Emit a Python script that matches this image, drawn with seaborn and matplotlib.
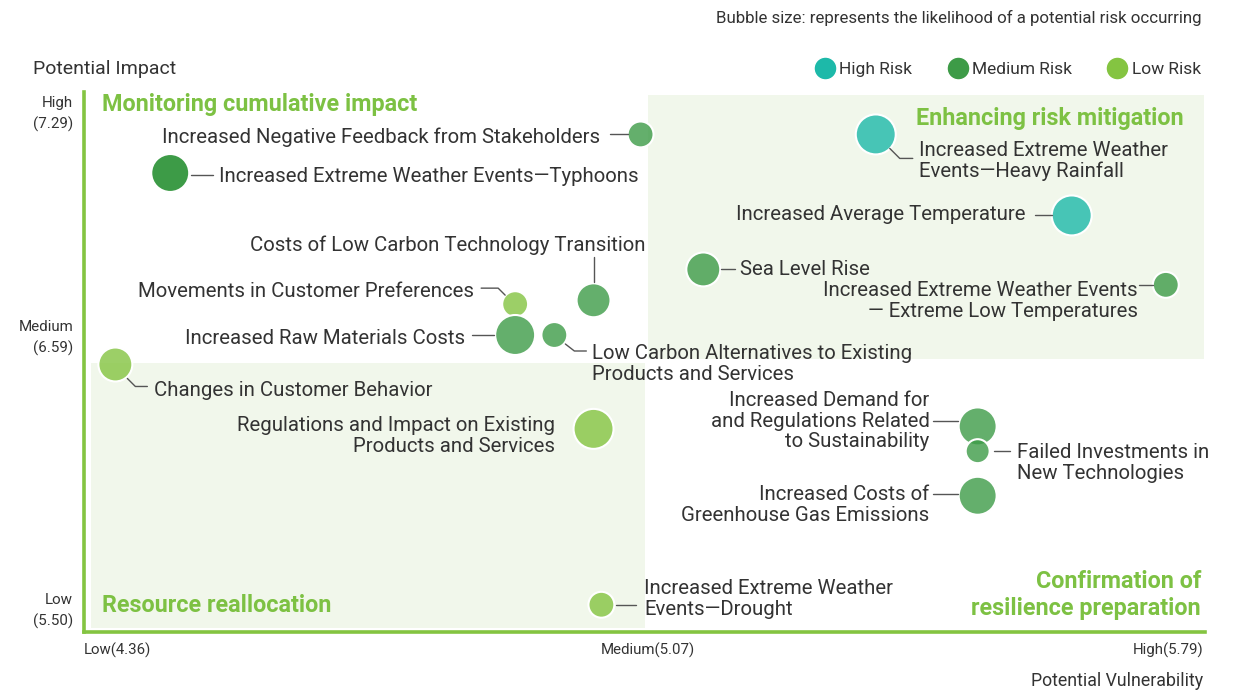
import numpy as np
import pandas as pd
import seaborn as sns
import matplotlib.pyplot as plt
from matplotlib.lines import Line2D
from matplotlib.patches import Rectangle
from matplotlib.transforms import IdentityTransform

# ---- data -------------------------------------------------------------
risks = [
    "Increased Negative Feedback from Stakeholders",
    "Increased Extreme Weather Events\u2014Typhoons",
    "Increased Extreme Weather\nEvents\u2014Heavy Rainfall",
    "Increased Average Temperature",
    "Sea Level Rise",
    "Increased Extreme Weather Events\n\u2014 Extreme Low Temperatures",
    "Costs of Low Carbon Technology Transition",
    "Movements in Customer Preferences",
    "Increased Raw Materials Costs",
    "Low Carbon Alternatives to Existing\nProducts and Services",
    "Changes in Customer Behavior",
    "Regulations and Impact on Existing\nProducts and Services",
    "Increased Demand for\nand Regulations Related\nto Sustainability",
    "Failed Investments in\nNew Technologies",
    "Increased Costs of\nGreenhouse Gas Emissions",
    "Increased Extreme Weather\nEvents\u2014Drought",
]
vulnerability = [5.07, 4.47, 5.37, 5.62, 5.15, 5.74, 5.01, 4.91,
                 4.91, 4.96, 4.40, 5.01, 5.50, 5.50, 5.50, 5.02]
impact = [7.18, 7.08, 7.18, 6.97, 6.83, 6.79, 6.75, 6.74,
          6.66, 6.66, 6.58, 6.32, 6.33, 6.23, 6.05, 5.61]
likelihood = [3.18, 3.82, 3.95, 3.95, 3.58, 3.18, 3.58, 3.18,
              3.95, 3.18, 3.58, 3.95, 3.82, 3.10, 3.82, 3.18]
risk_level = ["Medium", "Medium", "High", "High", "Medium", "Medium", "Medium", "Low",
              "Medium", "Medium", "Low", "Low", "Medium", "Medium", "Medium", "Low"]

x_ticks = [4.36, 5.07, 5.79]
x_tick_labels = ["Low(4.36)", "Medium(5.07)", "High(5.79)"]
y_ticks = [7.29, 6.59, 5.50]
y_tick_labels = ["High\n(7.29)", "Medium\n(6.59)", "Low\n(5.50)"]

level_colors = {"High": "#1db9a9", "Medium": "#3d9b47", "Low": "#84c441"}
level_names = {"High": "High Risk", "Medium": "Medium Risk", "Low": "Low Risk"}

# label placement: text offset (px, y down), alignment, leader polyline offsets
label_layout = [
    ((-40, 3), "right", [(-31, 0), (-13, 0)]),
    ((49, 3), "left", [(21, 2), (43, 2)]),
    ((43, 27), "left", [(14, 14), (24, 24), (37, 24)]),
    ((-46, -1), "right", [(-37, 0), (-20, 0)]),
    ((37, 0), "left", [(18, 0), (32, 0)]),
    ((-28, 16), "right", [(-27, 0), (-13, 0)]),
    ((52, -55), "right", [(0, -43), (0, -18)]),
    ((-41, -13), "right", [(-34, -16), (-17, -16), (-10, -9)]),
    ((-50, 3), "right", [(-43, 0), (-21, 0)]),
    ((38, 29), "left", [(11, 9), (20, 16), (32, 16)]),
    ((39, 26), "left", [(12, 14), (20, 22), (32, 22)]),
    ((-39, 7), "right", []),
    ((-48, -5), "right", [(-45, -5), (-20, -5)]),
    ((39, 12), "left", [(16, 0), (32, 0)]),
    ((-48, 9), "right", [(-45, -2), (-20, -2)]),
    ((43, -6), "left", [(15, 0), (35, 0)]),
]

df = pd.DataFrame({
    "risk": risks,
    "vulnerability": vulnerability,
    "impact": impact,
    "likelihood": likelihood,
    "level": risk_level,
})

# ---- style --------------------------------------------------------------
sns.set_theme(style="white")
plt.rcParams["font.family"] = ["Roboto", "DejaVu Sans"]

W, H = 1239, 691
GREEN = "#7dc143"
TEXT = "#333333"
LEAD = "#555555"
PANEL = "#f1f7eb"

fig = plt.figure(figsize=(W / 100, H / 100), dpi=100)
fig.patch.set_facecolor("white")
ax = fig.add_axes([84 / W, 1 - 632 / H, (1205 - 84) / W, (632 - 92) / H])


def fwd(v):
    v = np.asarray(v, dtype=float)
    return np.where(v < 6.59, (v - 5.50) / 1.09, 1 + (v - 6.59) / 0.70)


def inv(t):
    t = np.asarray(t, dtype=float)
    return np.where(t < 1, 5.50 + t * 1.09, 6.59 + (t - 1) * 0.70)


ax.set_yscale("function", functions=(fwd, inv))
ax.set_xlim(4.36, 5.79)
ax.set_ylim(5.50, 7.29)

# quadrant panels
ax.add_patch(Rectangle((5.0795, 6.597), 5.789 - 5.0795, 7.283 - 6.597,
                       facecolor=PANEL, edgecolor="none", zorder=0))
ax.add_patch(Rectangle((4.369, 5.516), 5.0756 - 4.369, 6.585 - 5.516,
                       facecolor=PANEL, edgecolor="none", zorder=0))

sns.scatterplot(data=df, x="vulnerability", y="impact", hue="level",
                palette=level_colors, size="likelihood", sizes=(298, 829),
                alpha=0.8, edgecolor="white", linewidth=1.5,
                legend=False, ax=ax, zorder=3)

# translucent bubbles, with the typhoon bubble kept fully opaque
coll = ax.collections[-1]
fc = np.array(coll.get_facecolors(), dtype=float)
if len(fc) == len(df):
    fc[:, 3] = 0.8
    fc[1, 3] = 1.0
    coll.set_alpha(None)
    coll.set_facecolors(fc)
    coll.set_edgecolors("white")

ax.set_xlim(4.36, 5.79)
ax.set_ylim(5.50, 7.29)
ax.set_xlabel("")
ax.set_ylabel("")
ax.set_xticks([])
ax.set_yticks([])
ax.yaxis.set_minor_locator(plt.NullLocator())
for side in ("top", "right"):
    ax.spines[side].set_visible(False)
for side in ("left", "bottom"):
    ax.spines[side].set_color("#84c441")
    ax.spines[side].set_linewidth(2.6)
ax.set_facecolor("none")

# ---- labels and leader lines -------------------------------------------
fig.canvas.draw()
ident = IdentityTransform()
for (xv, yv, name), (toff, ha, path) in zip(
        zip(vulnerability, impact, risks), label_layout):
    cx, cy = ax.transData.transform((xv, yv))
    if path:
        xs = [cx + p[0] for p in path]
        ys = [cy - p[1] for p in path]
        fig.add_artist(Line2D(xs, ys, transform=ident, color=LEAD, lw=1.0, zorder=4))
    fig.text((cx + toff[0]) / W, (cy - toff[1]) / H, name, ha=ha, va="center",
             multialignment=ha, fontsize=14.7, color=TEXT, linespacing=1.1)

# quadrant titles
title_kw = dict(transform=fig.transFigure, fontsize=16.8, fontweight="bold", color=GREEN)
ax.text(102 / W, 1 - 104 / H, "Monitoring cumulative impact",
        ha="left", va="center", **title_kw)
ax.text(1184 / W, 1 - 118 / H, "Enhancing risk mitigation",
        ha="right", va="center", **title_kw)
ax.text(102 / W, 1 - 606 / H, "Resource reallocation",
        ha="left", va="center", **title_kw)
ax.text(1201 / W, 1 - 595 / H, "Confirmation of\nresilience preparation",
        ha="right", va="center", multialignment="right", linespacing=1.2, **title_kw)

# axis tick labels
x_aligns = ["left", "center", "right"]
x_pos = [84, 648, 1203]
for lab, ha, xp in zip(x_tick_labels, x_aligns, x_pos):
    fig.text(xp / W, 1 - 650 / H, lab, ha=ha, va="center", fontsize=10.8, color=TEXT)

y_pos = [114, 338, 611]
for lab, yp in zip(y_tick_labels, y_pos):
    fig.text(73 / W, 1 - yp / H, lab, ha="right", va="center", multialignment="right",
             fontsize=10.9, color=TEXT, linespacing=1.6)

fig.text(33 / W, 1 - 69 / H, "Potential Impact", ha="left", va="center",
         fontsize=14, color=TEXT)
fig.text(1203 / W, 1 - 681 / H, "Potential Vulnerability", ha="right", va="center",
         fontsize=12.8, color=TEXT)
fig.text(1201 / W, 1 - 18 / H,
         "Bubble size: represents the likelihood of a potential risk occurring",
         ha="right", va="center", fontsize=12.2, color=TEXT)

# legend
handles = [Line2D([], [], marker="o", ls="", markersize=16.5,
                  markerfacecolor=level_colors[k], markeredgecolor="white",
                  markeredgewidth=1.0, label=level_names[k])
           for k in ("High", "Medium", "Low")]
fig.legend(handles=handles, loc="center right", ncol=3, frameon=False,
           bbox_to_anchor=(1217 / W, 1 - 69 / H), fontsize=12.5,
           handletextpad=0.25, columnspacing=2.0, handlelength=1.2,
           labelcolor=TEXT)

fig.savefig("out.png", dpi=100, facecolor="white")
